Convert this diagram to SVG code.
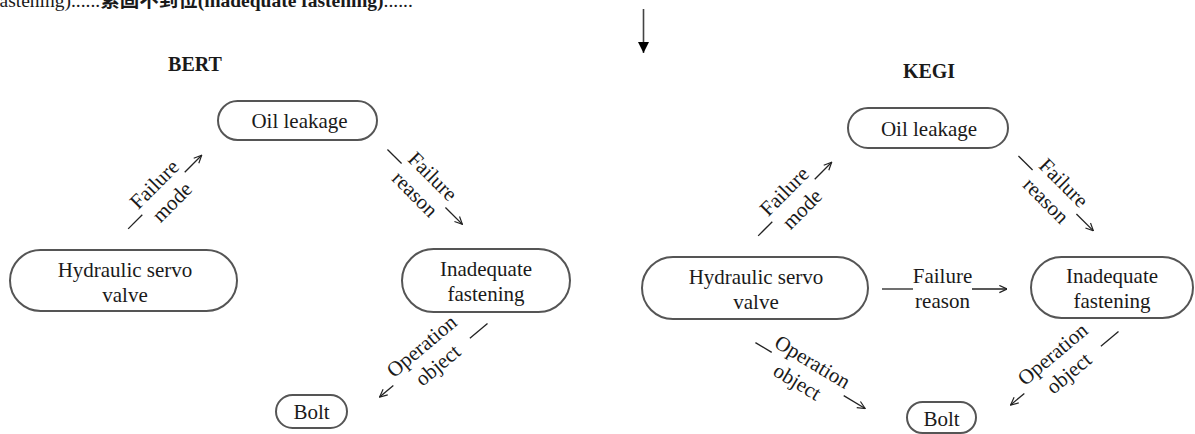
<svg xmlns="http://www.w3.org/2000/svg" width="1195" height="434" viewBox="0 0 1195 434">
<style>
text{font-family:"Liberation Serif","Noto Sans CJK SC",serif;fill:#1a1a1a}
.n{fill:#fff;stroke:#555;stroke-width:2}
.t{font-size:21px;text-anchor:middle}
.c{stroke:#222;stroke-width:1.3;fill:none}
.a{marker-end:url(#ah)}
.h{font-size:20px;font-weight:bold;text-anchor:middle}
</style>
<defs>
<marker id="ah" viewBox="0 0 10 10" refX="9.5" refY="5" markerWidth="9" markerHeight="9" markerUnits="userSpaceOnUse" orient="auto">
<path d="M1,1 L9.5,5 L1,9" fill="none" stroke="#222" stroke-width="1.3"/>
</marker>
<marker id="dh" viewBox="0 0 10 10" refX="10" refY="5" markerWidth="11" markerHeight="11" markerUnits="userSpaceOnUse" orient="auto">
<path d="M0,0 L10,5 L0,10 Z" fill="#000"/>
</marker>
</defs>
<rect width="1195" height="434" fill="#fff"/>
<text x="-7" y="7" font-size="19.5">fastening)......<tspan font-weight="bold">紧固不到位(inadequate fastening)</tspan>......</text>
<line x1="643.5" y1="9" x2="643.5" y2="53" stroke="#444" stroke-width="1.6" marker-end="url(#dh)"/>
<text class="h" x="195" y="71">BERT</text>
<text class="h" x="929" y="78">KEGI</text>
<g id="connectors">
<g transform="translate(163.5,193.5) rotate(-45)">
<line class="c" x1="-50" y1="0" x2="-30" y2="0"/><line class="c a" x1="30" y1="0" x2="54" y2="0"/>
<text class="t" x="0" y="-6">Failure</text><text class="t" x="0" y="19">mode</text></g>
<g transform="translate(423.5,185.5) rotate(45)">
<line class="c" x1="-51" y1="0" x2="-31" y2="0"/><line class="c a" x1="31" y1="0" x2="55" y2="0"/>
<text class="t" x="0" y="-6">Failure</text><text class="t" x="0" y="19">reason</text></g>
<g transform="translate(430,356) rotate(-40)">
<line class="c a" x1="-47" y1="-1" x2="-65" y2="-1"/><line class="c" x1="42" y1="12" x2="65" y2="12"/>
<text class="t" x="0" y="-6">Operation</text><text class="t" x="0" y="19">object</text></g>
<g transform="translate(793.5,200.5) rotate(-45)">
<line class="c" x1="-50" y1="0" x2="-30" y2="0"/><line class="c a" x1="30" y1="0" x2="54" y2="0"/>
<text class="t" x="0" y="-6">Failure</text><text class="t" x="0" y="19">mode</text></g>
<g transform="translate(1054.5,192) rotate(45)">
<line class="c" x1="-51" y1="0" x2="-31" y2="0"/><line class="c a" x1="31" y1="0" x2="55" y2="0"/>
<text class="t" x="0" y="-6">Failure</text><text class="t" x="0" y="19">reason</text></g>
<g transform="translate(942.5,289)">
<line class="c" x1="-60.5" y1="0" x2="-29.5" y2="0"/><line class="c a" x1="29.5" y1="0" x2="64.5" y2="0"/>
<text class="t" x="0" y="-6">Failure</text><text class="t" x="0" y="19">reason</text></g>
<g transform="translate(806,373) rotate(31)">
<line class="c" x1="-59" y1="0" x2="-40" y2="0"/><line class="c a" x1="44" y1="0" x2="69" y2="0"/>
<text class="t" x="0" y="-6">Operation</text><text class="t" x="-3" y="19">object</text></g>
<g transform="translate(1061,364) rotate(-40)">
<line class="c a" x1="-47" y1="-1" x2="-65" y2="-1"/><line class="c" x1="42" y1="12" x2="65" y2="12"/>
<text class="t" x="0" y="-6">Operation</text><text class="t" x="0" y="19">object</text></g>
</g>
<g id="bert-oil"><rect class="n" x="218" y="101" width="159" height="39" rx="19.5"/><text class="t" x="299.5" y="128">Oil leakage</text></g>
<g id="bert-hydraulic"><rect class="n" x="10" y="250" width="227" height="61" rx="30.5"/><text class="t" x="125" y="277">Hydraulic servo</text><text class="t" x="125" y="302">valve</text></g>
<g id="bert-inadequate"><rect class="n" x="402" y="249" width="168" height="63" rx="31.5"/><text class="t" x="486" y="276">Inadequate</text><text class="t" x="486" y="301">fastening</text></g>
<g id="bert-bolt"><rect class="n" x="276" y="395" width="71" height="33" rx="16.5"/><text class="t" x="311.5" y="418.5">Bolt</text></g>
<g id="kegi-oil"><rect class="n" x="848" y="108" width="160" height="40" rx="20"/><text class="t" x="929" y="135.5">Oil leakage</text></g>
<g id="kegi-hydraulic"><rect class="n" x="642" y="257" width="226" height="62" rx="31"/><text class="t" x="756" y="283.5">Hydraulic servo</text><text class="t" x="756" y="308.5">valve</text></g>
<g id="kegi-inadequate"><rect class="n" x="1031" y="257" width="162" height="61" rx="30.5"/><text class="t" x="1112" y="283">Inadequate</text><text class="t" x="1112" y="308">fastening</text></g>
<g id="kegi-bolt"><rect class="n" x="907" y="402" width="69" height="31" rx="15.5"/><text class="t" x="941.5" y="426">Bolt</text></g>
</svg>
